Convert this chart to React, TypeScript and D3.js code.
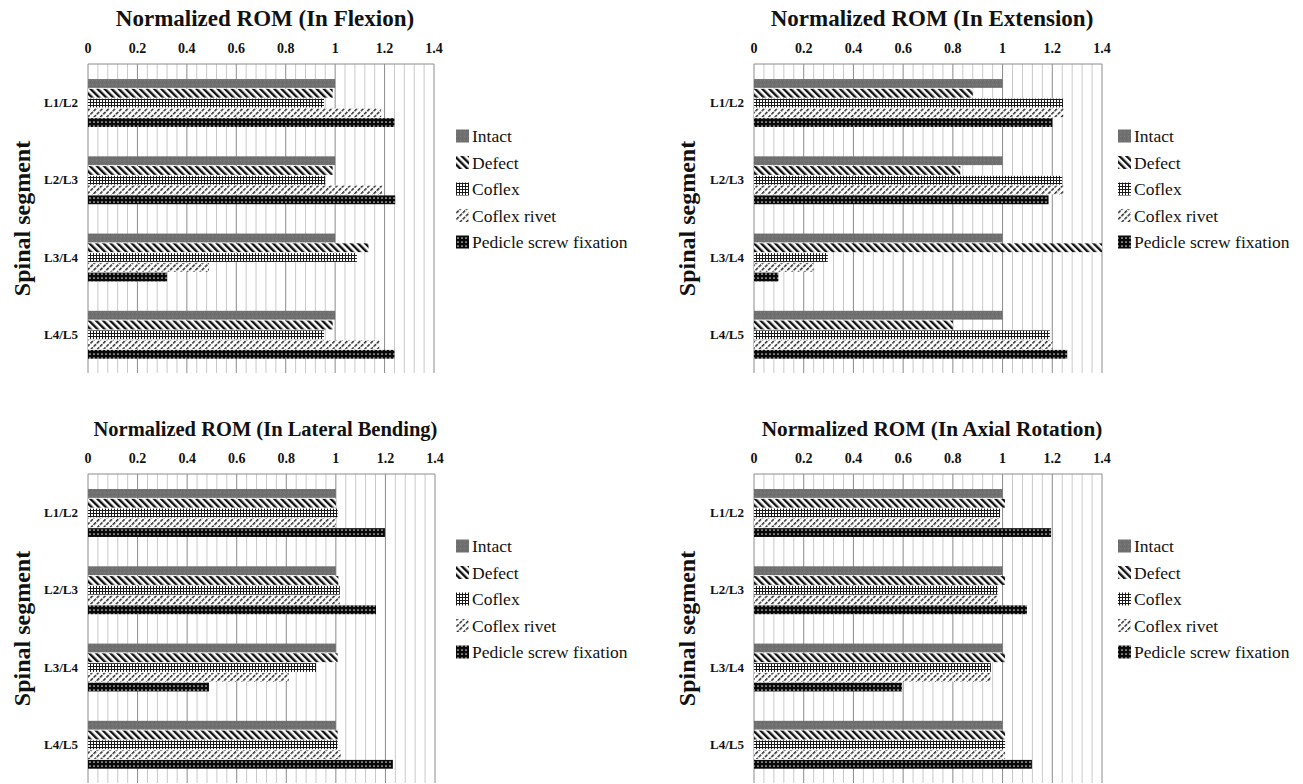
import React from "react";
import * as d3 from "d3";

// Spinal segments and implant conditions
const categories = ["L1/L2", "L2/L3", "L3/L4", "L4/L5"];
const seriesNames = ["Intact", "Defect", "Coflex", "Coflex rivet", "Pedicle screw fixation"];
const xTicks = [0, 0.2, 0.4, 0.6, 0.8, 1, 1.2, 1.4];

// Normalized ROM values: one row per series, one entry per segment
const flexion = [
  [1.0, 1.0, 1.0, 1.0],
  [0.99, 0.99, 1.135, 0.99],
  [0.955, 0.96, 1.088, 0.955],
  [1.186, 1.19, 0.49, 1.18],
  [1.24, 1.243, 0.32, 1.24],
];
const extension = [
  [1.0, 1.0, 1.0, 1.0],
  [0.88, 0.83, 1.4, 0.8],
  [1.243, 1.24, 0.297, 1.19],
  [1.245, 1.245, 0.24, 1.2],
  [1.2, 1.185, 0.098, 1.26],
];
const lateralBending = [
  [1.0, 1.0, 1.0, 1.0],
  [1.0, 1.01, 1.007, 1.007],
  [1.007, 1.016, 0.92, 1.007],
  [1.0, 1.016, 0.81, 1.02],
  [1.198, 1.162, 0.488, 1.23],
];
const axialRotation = [
  [1.0, 1.0, 1.0, 1.0],
  [1.01, 1.01, 1.01, 1.01],
  [0.99, 0.98, 0.953, 1.01],
  [0.99, 0.98, 0.953, 1.01],
  [1.195, 1.098, 0.595, 1.118],
];

const FONT = "Liberation Serif, DejaVu Serif, serif";
const patternIds = ["p-intact", "p-defect", "p-coflex", "p-rivet", "p-pedicle"];

function Patterns() {
  return (
    <defs>
      <pattern id="p-intact" patternUnits="userSpaceOnUse" width={4} height={4}>
        <rect width={4} height={4} fill="#707070" />
        <rect width={1} height={1} fill="#7c7c7c" />
        <rect x={2} y={2} width={1} height={1} fill="#656565" />
      </pattern>
      <pattern id="p-defect" patternUnits="userSpaceOnUse" width={5} height={5} patternTransform="rotate(-45)">
        <rect width={5} height={5} fill="#ffffff" />
        <rect width={2.4} height={5} fill="#111111" />
      </pattern>
      <pattern id="p-coflex" patternUnits="userSpaceOnUse" width={3} height={3}>
        <rect width={3} height={3} fill="#ffffff" />
        <rect width={3} height={1} fill="#1a1a1a" />
        <rect width={1} height={3} fill="#1a1a1a" />
      </pattern>
      <pattern id="p-rivet" patternUnits="userSpaceOnUse" width={4.5} height={4.5} patternTransform="rotate(45)">
        <rect width={4.5} height={4.5} fill="#ffffff" />
        <rect width={1.5} height={3.4} fill="#2a2a2a" />
      </pattern>
      <pattern id="p-pedicle" patternUnits="userSpaceOnUse" width={4} height={4}>
        <rect width={4} height={4} fill="#0a0a0a" />
        <circle cx={2} cy={2} r={0.85} fill="#d8d8d8" />
      </pattern>
    </defs>
  );
}

type PanelProps = {
  title: string;
  titleSize: number;
  values: number[][];
  x0: number;
  x1: number;
  y0: number;
  y1: number;
  legendSquareX: number;
  legendTextX: number;
  legendY: number;
  axisTitleX: number;
};

function Panel(p: PanelProps) {
  const x = d3.scaleLinear().domain([0, 1.4]).range([p.x0, p.x1]).clamp(true);
  const y = d3.scaleBand<string>().domain(categories).range([p.y0, p.y1]);
  const bw = y.bandwidth();
  const inner = d3
    .scaleBand<string>()
    .domain(seriesNames)
    .range([bw * 0.195, bw * 0.815])
    .paddingInner(0.1);
  const minor = d3.range(0, 36).map((i) => i * 0.04).filter((v, i) => i % 5 !== 0);
  const cx = (p.x0 + p.x1) / 2;
  const cy = (p.y0 + p.y1) / 2;
  const txt = { fontFamily: FONT, fill: "#111" } as const;

  return (
    <g>
      {/* gridlines */}
      {minor.map((v) => (
        <line key={"m" + v} x1={x(v)} x2={x(v)} y1={p.y0} y2={p.y1} stroke="#c9c9c9" strokeWidth={1} />
      ))}
      {xTicks.map((v) => (
        <line key={"M" + v} x1={x(v)} x2={x(v)} y1={p.y0} y2={p.y1} stroke="#8c8c8c" strokeWidth={1} />
      ))}
      <line x1={p.x0} x2={p.x1} y1={p.y0} y2={p.y0} stroke="#8c8c8c" strokeWidth={1} />

      {/* bars */}
      {p.values.map((row, si) =>
        row.map((v, ci) => (
          <rect
            key={si + "-" + ci}
            x={p.x0}
            y={(y(categories[ci]) as number) + (inner(seriesNames[si]) as number)}
            width={x(v) - p.x0}
            height={inner.bandwidth()}
            fill={`url(#${patternIds[si]})`}
          />
        ))
      )}

      {/* top axis labels */}
      {xTicks.map((v) => (
        <text key={"t" + v} x={x(v)} y={p.y0 - 11} textAnchor="middle" fontWeight="bold" fontSize={14} style={txt}>
          {d3.format("~g")(v)}
        </text>
      ))}

      {/* category labels */}
      {categories.map((c) => (
        <text
          key={c}
          x={p.x0 - 10}
          y={(y(c) as number) + bw / 2 + 4.5}
          textAnchor="end"
          fontWeight="bold"
          fontSize={13}
          style={txt}
        >
          {c}
        </text>
      ))}

      {/* title */}
      <text x={cx + 4} y={p.y0 - 38} textAnchor="middle" fontWeight="bold" fontSize={p.titleSize} style={txt}>
        {p.title}
      </text>

      {/* vertical axis title */}
      <text
        transform={`translate(${p.axisTitleX},${cy}) rotate(-90)`}
        textAnchor="middle"
        fontWeight="bold"
        fontSize={24}
        style={txt}
      >
        Spinal segment
      </text>

      {/* legend */}
      {seriesNames.map((s, i) => {
        const ly = p.legendY + i * 26.5;
        return (
          <g key={s}>
            <rect x={p.legendSquareX} y={ly - 6.5} width={13} height={13} fill={`url(#${patternIds[i]})`} />
            <text x={p.legendTextX} y={ly + 6} fontSize={17.5} style={txt}>
              {s}
            </text>
          </g>
        );
      })}
    </g>
  );
}

export default function App() {
  return (
    <svg
      width={1303}
      height={784}
      style={{ position: "absolute", left: 0, top: 0, background: "#fff" }}
    >
      <Patterns />
      <rect width={1303} height={784} fill="#fff" />
      <Panel
        title="Normalized ROM (In Flexion)"
        titleSize={23}
        values={flexion}
        x0={88}
        x1={434}
        y0={64}
        y1={373}
        legendSquareX={456}
        legendTextX={472}
        legendY={136}
        axisTitleX={30}
      />
      <Panel
        title="Normalized ROM (In Extension)"
        titleSize={23}
        values={extension}
        x0={754}
        x1={1102}
        y0={64}
        y1={373}
        legendSquareX={1118}
        legendTextX={1134}
        legendY={136}
        axisTitleX={695}
      />
      <Panel
        title="Normalized ROM (In Lateral Bending)"
        titleSize={20.5}
        values={lateralBending}
        x0={88}
        x1={435}
        y0={474}
        y1={783}
        legendSquareX={456}
        legendTextX={472}
        legendY={546}
        axisTitleX={30}
      />
      <Panel
        title="Normalized ROM (In Axial Rotation)"
        titleSize={21.3}
        values={axialRotation}
        x0={754}
        x1={1102}
        y0={474}
        y1={783}
        legendSquareX={1118}
        legendTextX={1134}
        legendY={546}
        axisTitleX={695}
      />
    </svg>
  );
}
